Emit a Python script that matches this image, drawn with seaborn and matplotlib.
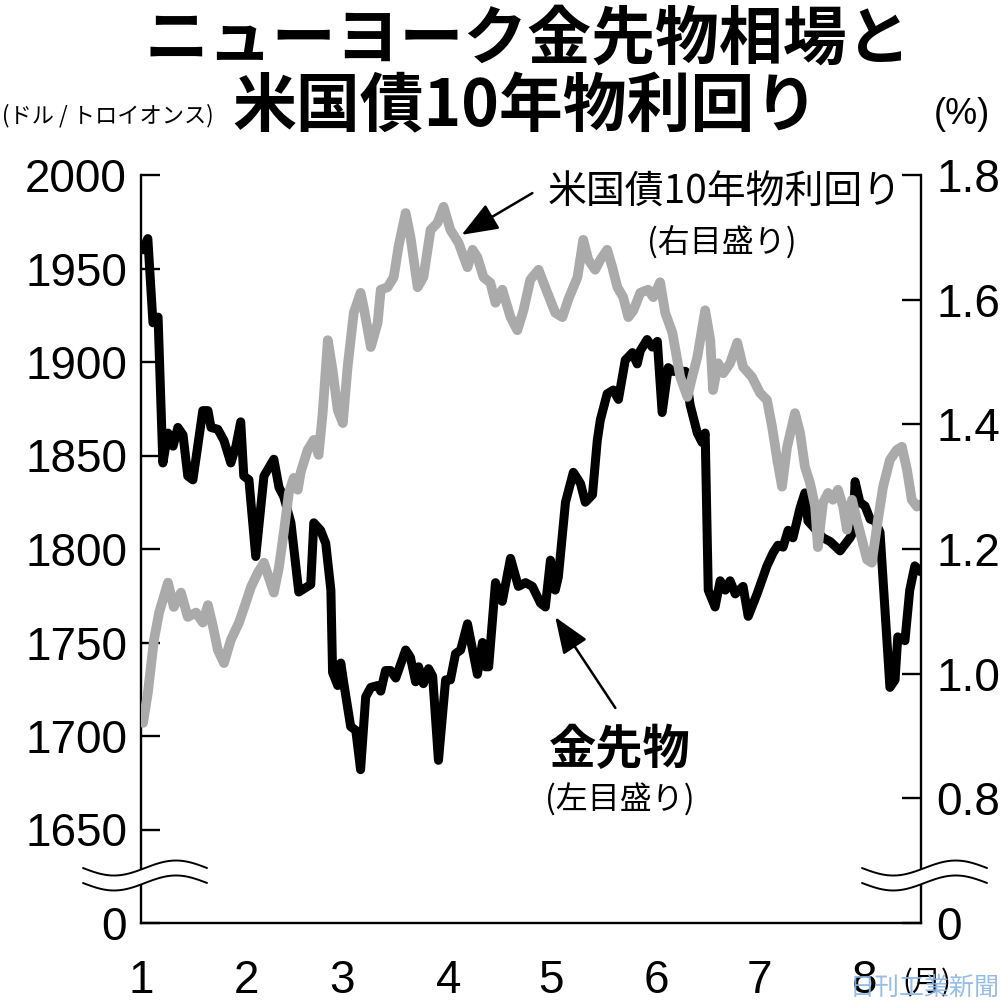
import numpy as np
import matplotlib
matplotlib.use('Agg')
import matplotlib.pyplot as plt
from matplotlib.patches import Polygon
import seaborn as sns

sns.set_style('white')
plt.rcParams['font.family'] = ['Liberation Sans', 'Noto Sans CJK JP', 'DejaVu Sans']
plt.rcParams.update({'text.color': 'black', 'xtick.color': 'black',
                     'ytick.color': 'black', 'axes.edgecolor': 'black',
                     'axes.labelcolor': 'black'})
JP = ['Noto Sans CJK JP', 'DejaVu Sans']

# gold futures (USD / troy oz), x = days since Jan 1
gold_day = [0.6, 2.0, 3.5, 5.0, 6.4, 7.9, 9.4, 10.8, 12.3, 13.7, 15.2, 18.1, 19.6, 20.5,
            22.5, 24.3, 26.3, 27.8, 29.2, 30.1, 31.6, 33.6, 36.0, 38.9, 40.4, 41.8, 43.9,
            46.2, 49.7, 50.6, 52.6, 54.1, 55.6, 56.1, 57.6, 58.5, 59.4, 61.4, 62.9, 64.3,
            65.8, 67.3, 69.3, 70.2, 71.6, 73.1, 74.6, 77.5, 78.9, 80.4, 81.3, 82.7, 84.2,
            85.4, 87.1, 89.2, 90.6, 92.1, 93.6, 95.6, 98.5, 100.0, 100.9, 101.8, 103.8,
            105.8, 108.2, 110.5, 112.6, 114.6, 117.0, 118.4, 119.9, 121.3, 122.2, 124.3,
            126.6, 128.7, 130.1, 132.2, 133.6, 134.5, 136.5, 138.3, 139.8, 141.8, 143.9,
            145.3, 146.2, 148.2, 149.7, 151.2, 152.6, 154.4, 155.8, 159.4, 160.8, 162.9,
            164.3, 165.2, 166.1, 168.1, 169.6, 171.1, 172.5, 174.0, 176.3, 177.8, 180.4,
            183.3, 185.1, 186.5, 188.0, 189.5, 190.9, 193.0, 194.4, 195.3, 199.7, 201.8,
            204.7, 207.6, 208.5, 209.1, 210.5, 212.0, 213.5, 214.9, 216.4, 219.3, 220.8,
            221.6, 223.7, 225.1, 226.6, 228.1]
gold_price = [1960, 1966, 1921, 1924, 1846, 1862, 1855, 1865, 1861, 1839, 1837, 1874, 1874,
              1865, 1864, 1858, 1846, 1855, 1868, 1839, 1837, 1796, 1839, 1848, 1833, 1828,
              1814, 1777, 1781, 1814, 1810, 1803, 1778, 1734, 1727, 1739, 1728, 1705, 1703,
              1682, 1721, 1726, 1727, 1724, 1735, 1735, 1731, 1746, 1742, 1729, 1737, 1728,
              1736, 1732, 1687, 1730, 1730, 1744, 1746, 1760, 1733, 1750, 1737, 1737, 1782,
              1772, 1795, 1780, 1782, 1780, 1771, 1769, 1794, 1778, 1785, 1825, 1841, 1835,
              1825, 1829, 1858, 1869, 1883, 1885, 1880, 1901, 1905, 1899, 1906, 1912, 1908,
              1911, 1873, 1897, 1895, 1895, 1877, 1862, 1857, 1862, 1778, 1769, 1783, 1778,
              1783, 1776, 1780, 1764, 1776, 1791, 1798, 1802, 1801, 1810, 1806, 1822, 1830,
              1815, 1806, 1804, 1799, 1806, 1809, 1836, 1825, 1823, 1816, 1815, 1809, 1726,
              1730, 1753, 1751, 1778, 1791, 1788]

# US 10-year treasury yield (%)
yield_day = [0.6, 2.0, 3.8, 5.3, 7.9, 9.6, 11.7, 13.7, 16.1, 18.1, 19.6, 21.1, 22.5, 24.3,
             26.3, 28.7, 30.7, 32.2, 34.2, 36.0, 37.4, 38.9, 40.4, 41.8, 43.3, 44.7, 45.9,
             46.8, 48.8, 50.6, 52.0, 53.2, 54.7, 56.1, 57.6, 59.1, 60.5, 62.3, 64.3, 65.2,
             67.3, 69.3, 70.2, 72.2, 74.0, 75.4, 77.5, 78.9, 81.0, 82.7, 84.8, 86.8, 88.6,
             90.6, 93.0, 95.6, 97.1, 98.5, 100.3, 102.3, 103.8, 105.8, 108.2, 110.2, 112.0,
             114.0, 116.4, 119.0, 121.3, 123.4, 125.1, 127.8, 129.5, 131.0, 133.0, 134.5,
             136.5, 138.0, 139.5, 141.2, 142.7, 144.2, 146.2, 148.5, 150.0, 152.0, 153.5,
             155.6, 157.9, 160.0, 161.4, 162.9, 165.2, 166.7, 167.5, 169.0, 170.5, 172.5,
             174.6, 176.3, 178.9, 181.3, 183.3, 184.8, 186.3, 187.7, 189.2, 191.5, 193.0,
             194.4, 195.9, 197.4, 198.2, 199.7, 201.2, 202.6, 204.1, 205.6, 206.7, 208.2,
             209.6, 211.1, 212.6, 214.0, 215.8, 217.3, 219.3, 221.3, 222.8, 224.3, 225.7,
             227.2, 228.1]
yield_pct = [0.921, 0.969, 1.054, 1.098, 1.146, 1.107, 1.130, 1.091, 1.098, 1.082, 1.110,
             1.075, 1.038, 1.017, 1.054, 1.082, 1.114, 1.139, 1.162, 1.178, 1.155, 1.130,
             1.171, 1.226, 1.290, 1.314, 1.295, 1.324, 1.359, 1.375, 1.351, 1.418, 1.535,
             1.487, 1.423, 1.402, 1.492, 1.579, 1.611, 1.588, 1.524, 1.563, 1.616, 1.620,
             1.636, 1.685, 1.739, 1.701, 1.620, 1.636, 1.712, 1.723, 1.749, 1.712, 1.691,
             1.652, 1.680, 1.668, 1.636, 1.627, 1.595, 1.616, 1.572, 1.551, 1.583, 1.632,
             1.648, 1.611, 1.579, 1.572, 1.600, 1.636, 1.696, 1.664, 1.648, 1.664, 1.680,
             1.652, 1.620, 1.604, 1.572, 1.583, 1.611, 1.616, 1.604, 1.628, 1.579, 1.547,
             1.476, 1.444, 1.476, 1.508, 1.583, 1.535, 1.455, 1.498, 1.482, 1.498, 1.531,
             1.492, 1.476, 1.450, 1.439, 1.396, 1.343, 1.300, 1.364, 1.418, 1.386, 1.332,
             1.306, 1.268, 1.203, 1.274, 1.290, 1.279, 1.295, 1.268, 1.231, 1.279, 1.247,
             1.215, 1.183, 1.178, 1.247, 1.300, 1.343, 1.359, 1.364, 1.327, 1.279, 1.268,
             1.271]

month_start = [0, 31, 59, 90, 120, 151, 181, 212]
month_labels = ['1', '2', '3', '4', '5', '6', '7', '8']
gold_ticks = [1600, 1650, 1700, 1750, 1800, 1850, 1900, 1950, 2000]
gold_tick_labels = ['0', '1650', '1700', '1750', '1800', '1850', '1900', '1950', '2000']
yield_ticks = [0.6, 0.8, 1.0, 1.2, 1.4, 1.6, 1.8]
yield_tick_labels = ['0', '0.8', '1.0', '1.2', '1.4', '1.6', '1.8']

W, H = 1000, 1008


def fx(px):
    return px / W


def fy(py):
    return 1 - py / H


def axis_break(ax, x0, x1):
    """Draw the wavy double-line axis break in axes coordinates."""
    t = np.linspace(0, 1, 80)
    xs = x0 + (x1 - x0) * t
    amp = 7.5 / 748
    wave = amp * np.sin(2 * np.pi * t)
    up = 0.0735 - wave
    lo = 0.0535 - wave
    poly = np.column_stack([np.concatenate([xs, xs[::-1]]),
                            np.concatenate([up, lo[::-1]])])
    ax.add_patch(Polygon(poly, closed=True, facecolor='white', edgecolor='none',
                         transform=ax.transAxes, clip_on=False, zorder=20))
    for yy in (up, lo):
        ax.plot(xs, yy, color='black', lw=1.4, transform=ax.transAxes,
                clip_on=False, zorder=21)


fig = plt.figure(figsize=(W / 100, H / 100), dpi=100)
ax = fig.add_axes([fx(141), fy(923), 780 / W, 748 / H])
ax2 = ax.twinx()

sns.lineplot(x=gold_day, y=gold_price, ax=ax, color='black', linewidth=6.5,
             estimator=None, solid_joinstyle='round', solid_capstyle='round')
sns.lineplot(x=yield_day, y=yield_pct, ax=ax2, color='#aaaaaa', linewidth=7,
             estimator=None, solid_joinstyle='round', solid_capstyle='round')

ax.set_xlim(0, 228.4)
ax.set_ylim(1600, 2000)
ax2.set_ylim(0.6, 1.8)

ax.set_xticks(month_start)
ax.set_xticklabels(month_labels)
ax.set_yticks(gold_ticks)
ax.set_yticklabels(gold_tick_labels)
ax2.set_yticks(yield_ticks)
ax2.set_yticklabels(yield_tick_labels)

ax.tick_params(axis='x', length=0, pad=26, labelsize=33, labelcolor='black')
ax.tick_params(axis='y', direction='in', length=14, width=1.7, pad=10, labelsize=33,
               color='black', labelcolor='black')
ax2.tick_params(axis='y', direction='in', length=14, width=1.7, pad=11, labelsize=33,
                color='black', labelcolor='black')
ax.set_xlabel('')
ax.set_ylabel('')
ax2.set_ylabel('')

for a in (ax, ax2):
    a.spines['top'].set_visible(False)
    for s in ('left', 'right', 'bottom'):
        a.spines[s].set_linewidth(1.7)
        a.spines[s].set_color('black')
ax.spines['right'].set_visible(False)
ax2.spines['left'].set_visible(False)
ax2.spines['bottom'].set_visible(False)

axis_break(ax2, (83 - 141) / 780, (207 - 141) / 780)
axis_break(ax2, (862 - 141) / 780, (987 - 141) / 780)

# title
fig.text(fx(528), fy(40), 'ニューヨーク金先物相場と', family=JP, fontweight='bold',
         fontsize=46, ha='center', va='center', color='black')
fig.text(fx(526), fy(108), '米国債10年物利回り', family=JP, fontweight='bold',
         fontsize=46, ha='center', va='center', color='black')

# axis units
fig.text(fx(2), fy(116), '(ドル / トロイオンス)', family=JP, fontsize=16,
         ha='left', va='center')
fig.text(fx(934), fy(114), '(%)', fontsize=26, ha='left', va='center')
fig.text(fx(902), fy(983), '(月)', family=JP, fontsize=21, ha='left', va='center')

# series labels
fig.text(fx(725), fy(193), '米国債10年物利回り', family=JP, fontsize=28,
         ha='center', va='center')
fig.text(fx(722), fy(243), '(右目盛り)', family=JP, fontsize=23,
         ha='center', va='center')
fig.text(fx(620), fy(750), '金先物', family=JP, fontweight='bold', fontsize=34,
         ha='center', va='center')
fig.text(fx(620), fy(800), '(左目盛り)', family=JP, fontsize=23,
         ha='center', va='center')

arrow = dict(arrowstyle='-|>,head_length=0.9,head_width=0.35', color='black',
             lw=1.8, mutation_scale=25, shrinkA=0, shrinkB=0)
ax2.annotate('', xy=(93.9, 1.704), xytext=(114.6, 1.771), arrowprops=arrow, zorder=15)
ax.annotate('', xy=(121.3, 1763.6), xytext=(138.9, 1715), arrowprops=arrow)

# watermark (overlaps the month unit in the original too)
fig.text(fx(925), fy(988), '日刊工業新聞', family=JP, fontsize=18, color='#8ab6e6',
         alpha=0.9, ha='center', va='center', zorder=30)

fig.savefig('out.png', dpi=100)
